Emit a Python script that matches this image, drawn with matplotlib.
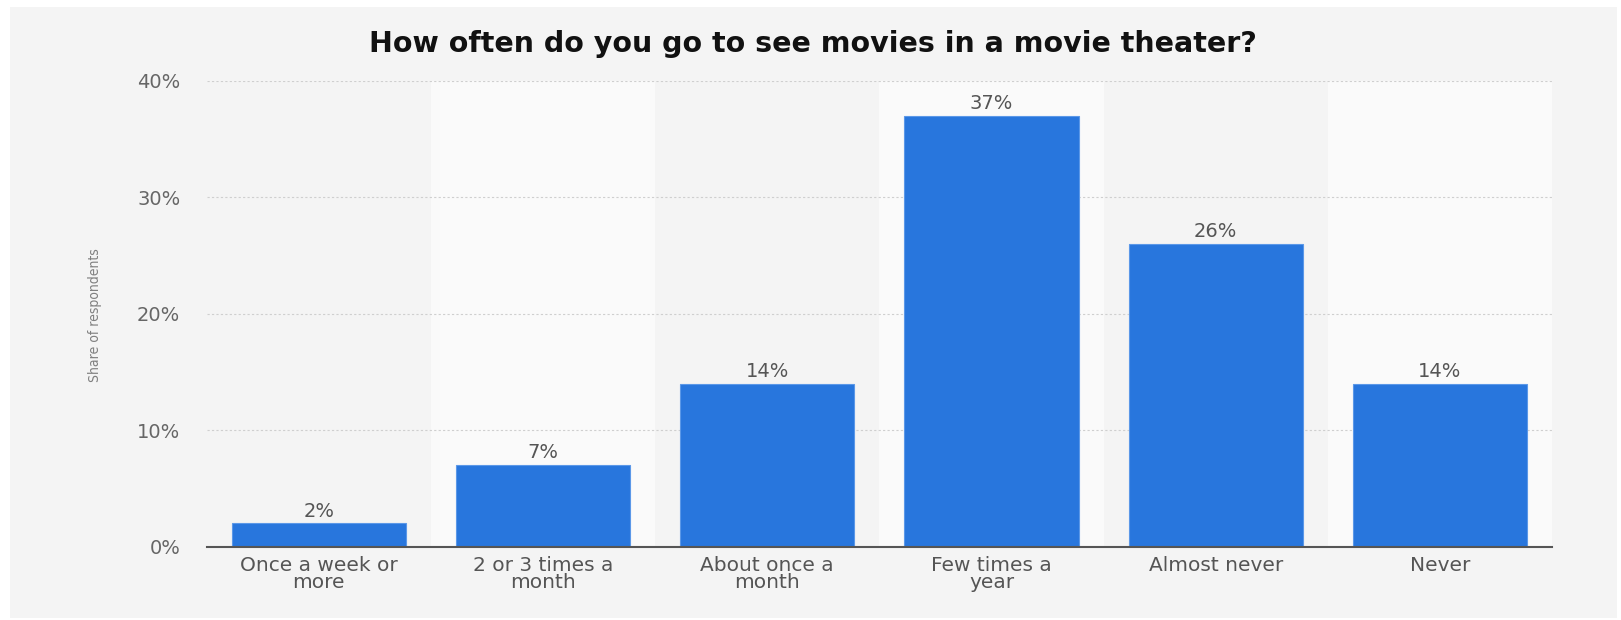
import matplotlib
matplotlib.use("Agg")
import matplotlib.pyplot as plt

categories = ["Once a week or\nmore", "2 or 3 times a\nmonth", "About once a\nmonth",
              "Few times a\nyear", "Almost never", "Never"]
values = [2, 7, 14, 37, 26, 14]
yticks = [0, 10, 20, 30, 40]
ytick_labels = ["0%", "10%", "20%", "30%", "40%"]
title = "How often do you go to see movies in a movie theater?"
ylabel = "Share of respondents"

W, H = 1621, 620
fig = plt.figure(figsize=(W / 100, H / 100), dpi=100)
fig.patch.set_facecolor("white")

bg = fig.add_axes([10 / W, 2 / H, (1617 - 10) / W, (618 - 7) / H], zorder=0)
bg.set_facecolor("#f4f4f4")
bg.set_xticks([])
bg.set_yticks([])
for s in bg.spines.values():
    s.set_visible(False)

ax = fig.add_axes([206.7 / W, 1 - 546.7 / H, (1552 - 206.7) / W, (546.7 - 80.6) / H],
                  zorder=1)
ax.set_facecolor("none")
x = list(range(len(categories)))

for i in x:
    if i % 2 == 1:
        ax.axvspan(i - 0.5, i + 0.5, color="#fafafa", zorder=0, lw=0)

for t in yticks[1:]:
    ax.axhline(t, color="#cfcfcf", lw=0.8, ls=(0, (2, 2)), zorder=1)

bars = ax.bar(x, values, width=0.777, color="#2876dd", edgecolor="#5b98e8",
              linewidth=0.8, zorder=2)
for b, v in zip(bars, values):
    ax.annotate(f"{v}%", (b.get_x() + b.get_width() / 2, v), xytext=(0, 2),
                textcoords="offset points", ha="center", va="bottom",
                fontsize=14, color="#555555", zorder=3)

ax.set_xlim(-0.5, len(categories) - 0.5)
ax.set_ylim(0, 40)
ax.set_xticks(x)
ax.set_xticklabels(categories, fontsize=14.5, color="#555555", linespacing=0.85)
ax.set_yticks(yticks)
ax.set_yticklabels(ytick_labels, fontsize=14, color="#666666")
ax.tick_params(axis="both", length=0)
ax.tick_params(axis="x", pad=7)
ax.tick_params(axis="y", pad=19)
for s in ["top", "right", "left"]:
    ax.spines[s].set_visible(False)
ax.spines["bottom"].set_color("#555555")
ax.spines["bottom"].set_linewidth(1.5)
ax.spines["bottom"].set_zorder(4)

fig.text(95 / W, 1 - 315 / H, ylabel, rotation=90, ha="center", va="center",
         fontsize=10, color="#808080", family="DejaVu Sans", stretch="condensed",
         zorder=5)

fig.text(813 / W, 1 - 44.5 / H, title, ha="center", va="center",
         fontsize=20.5, fontweight="bold", color="#111111", zorder=5)

fig.savefig("out.png", dpi=100, facecolor=fig.get_facecolor())
